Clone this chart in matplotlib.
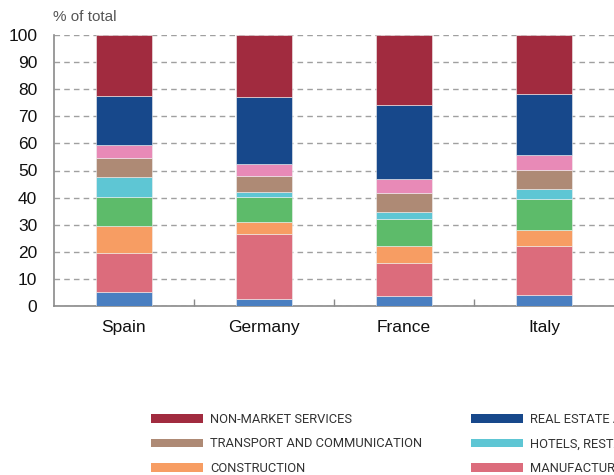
import numpy as np
import matplotlib
matplotlib.use('Agg')
import matplotlib.pyplot as plt
from matplotlib.patches import Patch

# ==================== data ====================
countries = ['Spain', 'Germany', 'France', 'Italy']

# stacked from the bottom up
agriculture   = [5.0, 2.5, 3.6, 3.9]
manufacturing = [14.7, 24.2, 12.4, 18.2]
construction  = [9.9, 4.2, 6.1, 5.9]
trade         = [10.6, 9.4, 9.9, 11.4]
hotels        = [7.3, 1.9, 2.6, 3.8]
transport     = [7.2, 5.6, 7.0, 7.1]
financial     = [4.8, 4.5, 5.1, 5.5]
real_estate   = [17.9, 24.9, 27.6, 22.6]
non_market    = [22.6, 22.8, 25.7, 21.6]

series = [
    ('AGRICULTURE', agriculture, '#4a7fc1'),
    ('MANUFACTURING', manufacturing, '#dc6c7c'),
    ('CONSTRUCTION', construction, '#f79d63'),
    ('TRADE', trade, '#5dbb6a'),
    ('HOTELS, RESTAURANTS', hotels, '#5ec6d4'),
    ('TRANSPORT AND COMMUNICATION', transport, '#ae8a75'),
    ('FINANCIAL INTERMEDIATION', financial, '#e88ab7'),
    ('REAL ESTATE AND BUSINESS ACTIVITIES', real_estate, '#17488b'),
    ('NON-MARKET SERVICES', non_market, '#a12b3f'),
]

yticks = list(range(0, 101, 10))

# ==================== plot ====================
plt.rcParams['font.family'] = ['Liberation Sans', 'DejaVu Sans']

fig = plt.figure(figsize=(6.14, 4.75), dpi=100)
ax = fig.add_axes([54 / 614, 1 - 306 / 475, 1 - 54 / 614, (306 - 35) / 475])

x = np.arange(len(countries))
bottom = np.zeros(len(countries))
handles = {}
for name, vals, col in series:
    ax.bar(x, vals, width=0.4, bottom=bottom, color=col,
           edgecolor='#f0f0f0', linewidth=0.4, zorder=3)
    bottom += np.array(vals)
    handles[name] = Patch(facecolor=col, edgecolor='none')

ax.set_xlim(-0.5, len(countries) - 0.5)
ax.set_ylim(0, 100)
ax.set_yticks(yticks)
ax.set_xticks(x)
ax.set_xticklabels(countries)
ax.set_xticks(x[:-1] + 0.5, minor=True)

ax.yaxis.grid(True, linestyle=(0, (4, 3)), color='#a0a0a0', linewidth=1.0, zorder=0)
ax.set_axisbelow(True)

for s in ['top', 'right']:
    ax.spines[s].set_visible(False)
for s in ['left', 'bottom']:
    ax.spines[s].set_color('#8a8a8a')
    ax.spines[s].set_linewidth(1.2)

ax.tick_params(axis='y', length=0, pad=12, labelsize=12.5, labelcolor='#111111')
ax.tick_params(axis='x', which='major', length=0, pad=10, labelsize=12.5, labelcolor='#111111')
ax.tick_params(axis='x', which='minor', direction='in', length=5, color='#8a8a8a', width=1)

fig.text(53 / 614, 1 - 17 / 475, '% of total', fontsize=11, color='#555555', va='center', ha='left')

# --- legend, 3 columns, read row by row ---
legend_cols = [
    ['NON-MARKET SERVICES', 'TRANSPORT AND COMMUNICATION', 'CONSTRUCTION'],
    ['REAL ESTATE AND BUSINESS ACTIVITIES', 'HOTELS, RESTAURANTS', 'MANUFACTURING'],
    ['FINANCIAL INTERMEDIATION', 'TRADE', 'AGRICULTURE'],
]
col_x = [151, 471, 791]
for names, cx in zip(legend_cols, col_x):
    fig.legend([handles[n] for n in names], names,
               loc='upper left', bbox_to_anchor=(cx / 614, 1 - 413 / 475),
               frameon=False, borderpad=0, borderaxespad=0,
               prop={'family': ['Roboto', 'Liberation Sans'], 'size': 9.3},
               labelcolor='#333333', handlelength=4.0, handleheight=0.65,
               handletextpad=0.6, labelspacing=0.88)

fig.savefig('out.png', dpi=100)
